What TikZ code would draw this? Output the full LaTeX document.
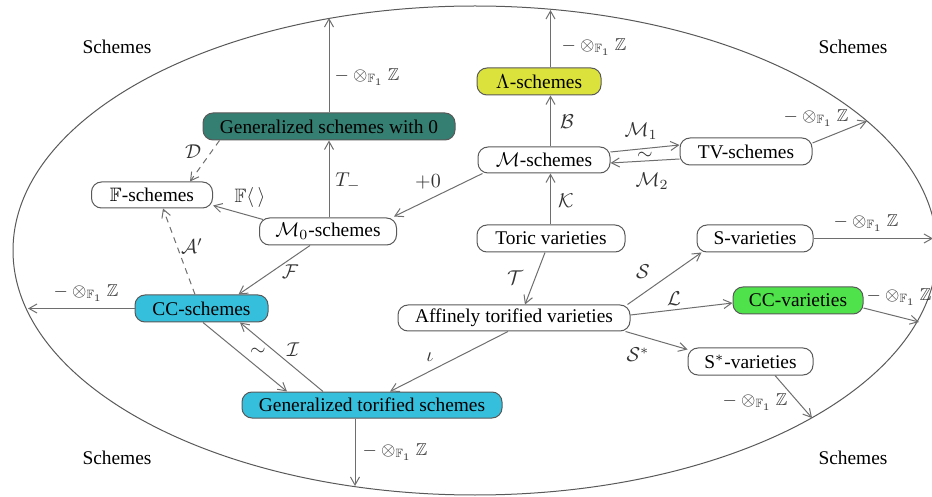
\documentclass[tikz,border=0pt]{standalone}
\usepackage{amsmath,amssymb}
\usepackage{fontspec}
\setmainfont{Liberation Serif}
\usetikzlibrary{arrows.meta}
\definecolor{teal0}{HTML}{347F72}
\definecolor{cyan0}{HTML}{35BFDC}
\definecolor{yel0}{HTML}{DBE23C}
\definecolor{grn0}{HTML}{4FE24A}
\definecolor{arr}{HTML}{6E6E6E}
\definecolor{lab}{HTML}{333333}
\newcommand{\tensz}{$-\otimes_{\mathbb{F}_1}\mathbb{Z}$}
\begin{document}
\begin{tikzpicture}[x=0.5pt,y=-0.5pt,
  box/.style={draw=black!65, line width=0.5pt, rounded corners=5pt,
    minimum height=13pt, inner sep=0pt, font=\rmfamily\fontsize{9.7}{11}\selectfont, text=black},
  ar/.style={draw=arr, line width=0.5pt, -{Straight Barb[length=4pt,width=4.5pt]}},
  dar/.style={ar, dash pattern=on 3pt off 2.5pt},
  lb/.style={font=\fontsize{9.7}{11}\selectfont, text=lab, inner sep=0pt},
  tz/.style={font=\fontsize{8.6}{10}\selectfont, text=lab, inner sep=0pt},
  sch/.style={font=\rmfamily\fontsize{9.7}{11}\selectfont, inner sep=0pt}]
\useasboundingbox (0,0) rectangle (932,497);
\draw[black!65, line width=0.5pt] (475,250.5) ellipse [x radius=231pt, y radius=122.25pt];

\node[sch] (s1) at (117,47) {Schemes};
\node[sch] (s2) at (853,47) {Schemes};
\node[sch] (s3) at (117,458) {Schemes};
\node[sch] (s4) at (853,458) {Schemes};

\node[box, fill=teal0, minimum width=126pt, minimum height=13.5pt] (GS0) at (329,126.5) {Generalized schemes with 0};
\node[box, fill=yel0, minimum width=62pt, minimum height=13.5pt] (Lam) at (539,81.5) {$\Lambda$-schemes};
\node[box, fill=white, minimum width=66pt] (Mod) at (544,160) {$\mathcal{M}$-schemes};
\node[box, fill=white, minimum width=66pt, minimum height=13.5pt] (TV) at (746,151.5) {TV-schemes};
\node[box, fill=white, minimum width=60.5pt] (Fs) at (152,195) {$\mathbb{F}$-schemes};
\node[box, fill=white, minimum width=68.5pt, minimum height=13.5pt] (M0) at (328,231.5) {$\mathcal{M}_0$-schemes};
\node[box, fill=white, minimum width=74pt, minimum height=13.5pt] (Tor) at (551,238.5) {Toric varieties};
\node[box, fill=white, minimum width=58pt, minimum height=13.5pt] (Sv) at (755,238.5) {S-varieties};
\node[box, fill=cyan0, minimum width=66.5pt, minimum height=13.5pt] (CCs) at (201.5,308.5) {CC-schemes};
\node[box, fill=white, minimum width=116pt] (ATV) at (514,318) {Affinely torified varieties};
\node[box, fill=grn0, minimum width=65pt, minimum height=13.5pt] (CCv) at (798,300.5) {CC-varieties};
\node[box, fill=white, minimum width=62.5pt, minimum height=13.5pt] (Ssv) at (750.5,361.5) {S$^*$-varieties};
\node[box, fill=cyan0, minimum width=130pt] (GTS) at (372,405) {Generalized torified schemes};

\coordinate (e1) at (329,18);
\coordinate (e8) at (28,308.5);
\coordinate (e12) at (355,486);
\coordinate (e15) at (550.5,10);
\coordinate (e18) at (867,121);
\coordinate (e19) at (933,238.5);
\coordinate (e24) at (919,322);
\coordinate (e25) at (812,418);

% edges
\draw[ar] (GS0.north) -- (e1);
\draw[ar] (GS0.south |- M0.north) -- (GS0.south);
\draw[ar] ([xshift=2.5pt]Mod.south west) -- ([xshift=-1.5pt,yshift=0.5pt]M0.north east);
\draw[ar] ([xshift=2pt,yshift=-1pt]M0.north west) -- ([yshift=1.5pt]Fs.south east);
\draw[dar] ([xshift=8.5pt]GS0.south west) -- ([xshift=19pt]Fs.north);
\draw[dar] ([xshift=-3.25pt]CCs.north) -- ([xshift=5.5pt]Fs.south);
\draw[ar] ([xshift=-9pt]M0.south) -- ([xshift=-15pt]CCs.north east);
\draw[ar] (CCs.west) -- (e8);
\draw[ar] ([xshift=0.75pt]CCs.south) -- ([xshift=-42.5pt]GTS.north);
\draw[ar] ([xshift=-24.5pt]GTS.north) -- ([xshift=19.25pt]CCs.south);
\draw[ar] ([xshift=-3pt]ATV.south) -- ([xshift=9pt]GTS.north);
\draw[ar] ([xshift=-8.5pt]GTS.south) -- (e12);
\draw[ar] ([xshift=-0.25pt]Tor.north) -- ([xshift=3.25pt]Mod.south);
\draw[ar] ([xshift=3.25pt]Mod.north) -- ([xshift=5.75pt]Lam.south);
\draw[ar] ([xshift=5.75pt]Lam.north) -- (e15);
\draw[ar] ([yshift=4pt]Mod.east) -- ([yshift=3.25pt]TV.west);
\draw[ar] ([yshift=-3.75pt]TV.west) -- ([yshift=-1.5pt]Mod.east);
\draw[ar] ([yshift=4.25pt]TV.east) -- (e18);
\draw[ar] (Sv.east) -- (e19);
\draw[ar] ([xshift=-3pt]Tor.south) -- ([xshift=5.5pt]ATV.north);
\draw[ar] ([xshift=-1.5pt]ATV.north east) -- ([xshift=2.5pt]Sv.south west);
\draw[ar] ([yshift=1.5pt]ATV.east) -- ([yshift=-1.25pt]CCv.west);
\draw[ar] ([xshift=-2.5pt]ATV.south east) -- ([yshift=-1pt]Ssv.north west);
\draw[ar] ([yshift=-3.75pt]CCv.east) -- (e24);
\draw[ar] ([xshift=12.25pt]Ssv.south) -- (e25);

% labels
\node[tz] (l1) at (367,77) {\tensz};
\node[lb] (l2) at (348,182) {$T_{-}$};
\node[lb] (l3) at (428,182) {$+0$};
\node[lb] (l4) at (250,198) {$\mathbb{F}\langle\,\rangle$};
\node[lb] (l5) at (193,152) {$\mathcal{D}$};
\node[lb] (l6) at (192,246) {$\mathcal{A}'$};
\node[lb] (l7) at (290,272) {$\mathcal{F}$};
\node[tz] (l8) at (86,293) {\tensz};
\node[lb] (l9) at (258,352) {$\sim$};
\node[lb] (l10) at (293,350) {$\mathcal{I}$};
\node[lb] (l11) at (430,357) {$\iota$};
\node[tz] (l12) at (395,452) {\tensz};
\node[lb] (l13) at (566,201) {$\mathcal{K}$};
\node[lb] (l14) at (567,122) {$\mathcal{B}$};
\node[tz] (l15) at (594,47) {\tensz};
\node[lb] (l16) at (641,131) {$\mathcal{M}_1$};
\node[lb] (l17) at (645,156) {$\sim$};
\node[lb] (l18) at (652,181) {$\mathcal{M}_2$};
\node[tz] (l19) at (816,118) {\tensz};
\node[tz] (l20) at (866,223) {\tensz};
\node[lb] (l21) at (515,278) {$\mathcal{T}$};
\node[lb] (l22) at (643,272) {$\mathcal{S}$};
\node[lb] (l23) at (674,299) {$\mathcal{L}$};
\node[lb] (l24) at (638,355) {$\mathcal{S}^*$};
\node[tz] (l25) at (899,297) {\tensz};
\node[tz] (l26) at (755,402) {\tensz};
\end{tikzpicture}
\end{document}
